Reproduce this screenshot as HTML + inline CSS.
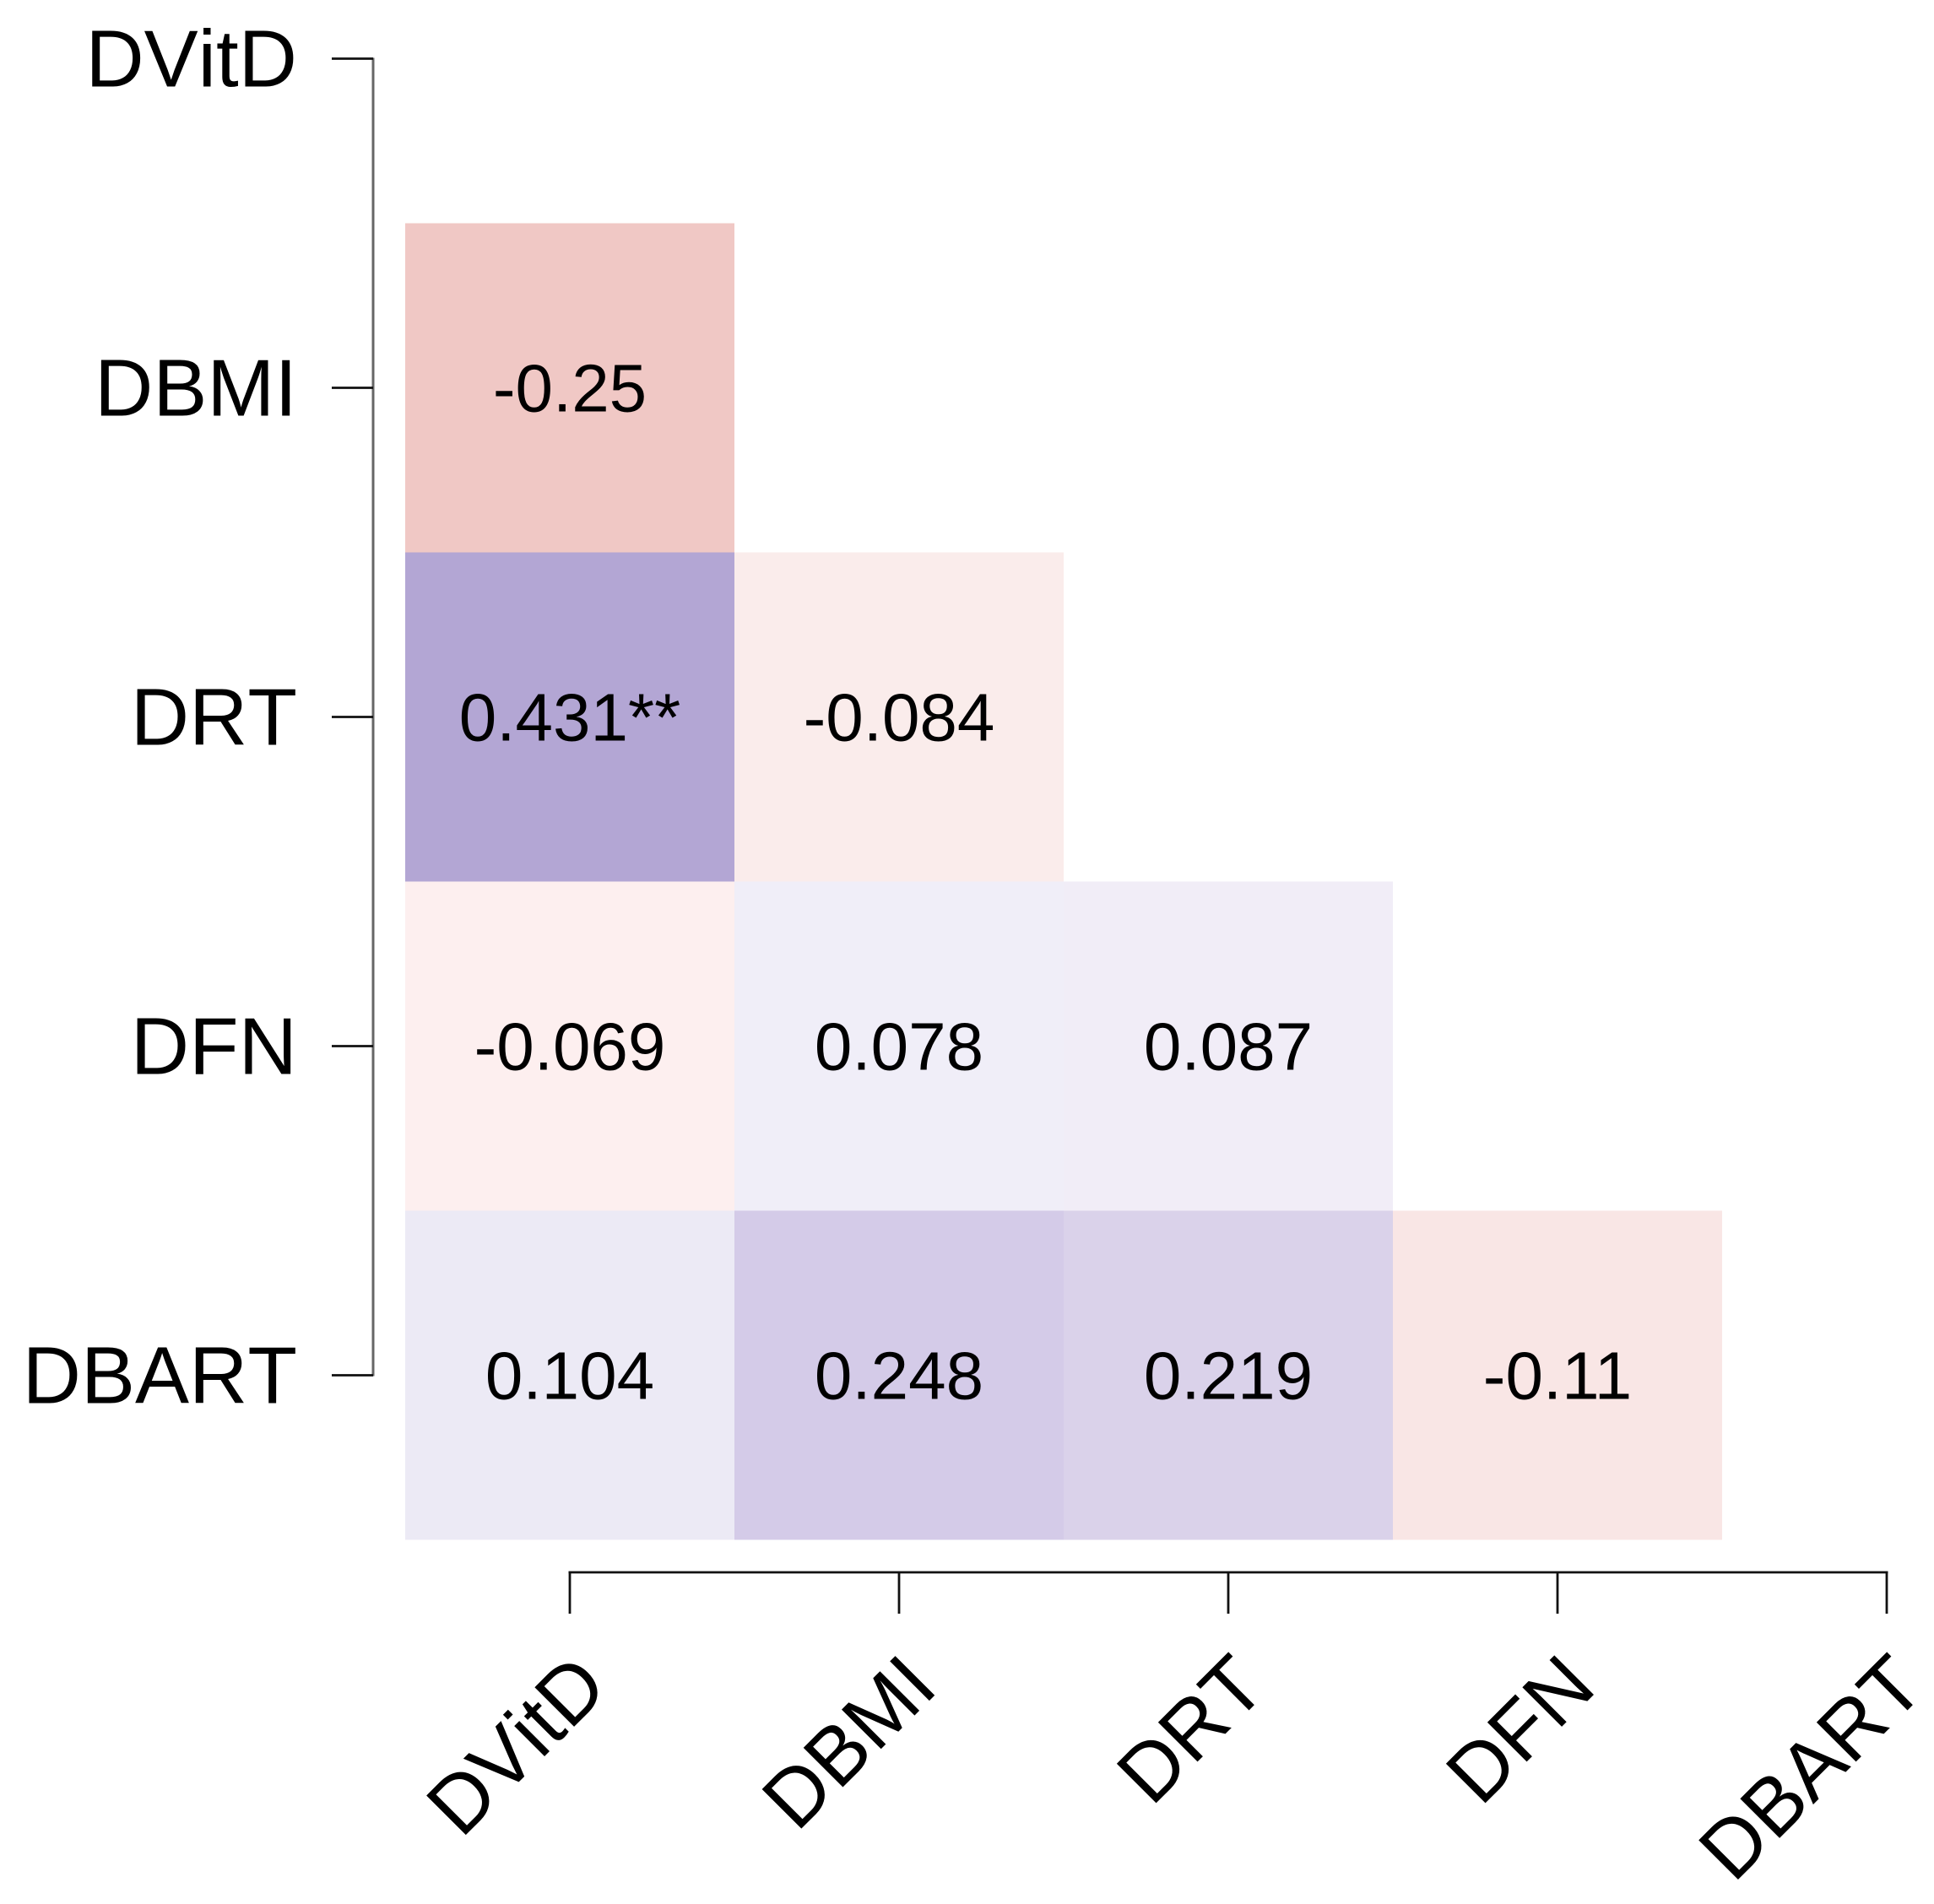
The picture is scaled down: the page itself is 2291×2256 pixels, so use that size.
<!DOCTYPE html>
<html>
<head>
<meta charset="utf-8">
<title>Correlation heatmap</title>
<style>
  html, body { margin: 0; padding: 0; background: #ffffff; }
  svg { display: block; }
  text { font-family: "Liberation Sans", Arial, sans-serif; fill: #000; }
  text.axis-label { font-kerning: none; }
</style>
</head>
<body>
<svg id="chart" xmlns="http://www.w3.org/2000/svg" width="2291" height="2256" viewBox="0 0 2291 2256"></svg>
<script>
const categories = ['DVitD', 'DBMI', 'DRT', 'DFN', 'DBART'];
const rowDBMI = [-0.25];
const rowDRT = [0.431, -0.084];
const rowDFN = [-0.069, 0.078, 0.087];
const rowDBART = [0.104, 0.248, 0.219, -0.11];
const printedDBMI = ['-0.25'];
const printedDRT = ['0.431**', '-0.084'];
const printedDFN = ['-0.069', '0.078', '0.087'];
const printedDBART = ['0.104', '0.248', '0.219', '-0.11'];
const correlationRows = [[], rowDBMI, rowDRT, rowDFN, rowDBART];
const printedRows = [[], printedDBMI, printedDRT, printedDFN, printedDBART];

const NS = 'http://www.w3.org/2000/svg';
const svg = document.getElementById('chart');
const band = 390;
const xOrigin = 675;
const yOrigin = 69.5;
function xPos(i) { return xOrigin + band * i; }
function yPos(i) { return yOrigin + band * i; }

/* Colour scale: correlation magnitude to fill, with stops matched by eye. */
const positiveStops = [[0, 255, 255, 255], [0.078, 240, 238, 248], [0.087, 241, 237, 247], [0.104, 236, 234, 245], [0.219, 218, 210, 234], [0.248, 212, 203, 232], [0.431, 179, 166, 212]];
const negativeStops = [[0, 255, 255, 255], [0.069, 253, 239, 239], [0.084, 250, 236, 235], [0.11, 249, 230, 229], [0.25, 240, 200, 197]];
function colorFor(v) {
  const stops = v >= 0 ? positiveStops : negativeStops;
  const m = Math.min(Math.abs(v), stops[stops.length - 1][0]);
  for (let i = 1; i < stops.length; i++) {
    if (m <= stops[i][0]) {
      const a = stops[i - 1];
      const b = stops[i];
      const t = (m - a[0]) / (b[0] - a[0]);
      return 'rgb(' + [1, 2, 3].map(function (k) { return Math.round(a[k] + (b[k] - a[k]) * t); }).join(',') + ')';
    }
  }
  return '#fff';
}
function add(tag, attrs, parent) {
  const el = document.createElementNS(NS, tag);
  Object.keys(attrs).forEach(function (k) { el.setAttribute(k, attrs[k]); });
  (parent || svg).appendChild(el);
  return el;
}

correlationRows.forEach(function (row, r) {
  row.forEach(function (v, c) {
    const cell = add('rect', { x: xPos(c) - band / 2, y: yPos(r) - band / 2, width: band, height: band, fill: colorFor(v) });
    
    
  });
});
correlationRows.forEach(function (row, r) {
  row.forEach(function (v, c) {
    const label = add('text', { x: xPos(c), y: yPos(r) + 28, 'text-anchor': 'middle', 'font-size': 80 });
    label.textContent = printedRows[r][c];
    
    
  });
});

const yAxisX = 442;
const yLine = add('line', { x1: yAxisX, x2: yAxisX, y1: yPos(0) - 1, y2: yPos(categories.length - 1) + 1, stroke: '#666666', 'stroke-width': 3 });



const xAxisY = 1863;
const xLine = add('line', { x1: xPos(0) - 1.5, x2: xPos(categories.length - 1) + 1.5, y1: xAxisY, y2: xAxisY, stroke: '#111111', 'stroke-width': 2.8 });



categories.forEach(function (name, i) {
  const yTick = add('line', { x1: 393, x2: yAxisX, y1: yPos(i), y2: yPos(i), stroke: '#111111', 'stroke-width': 2.8 });
  
  

  const yLabel = add('text', { x: 352, y: yPos(i) + 33, 'text-anchor': 'end', 'font-size': 96, class: 'axis-label' });
  yLabel.textContent = name;
  
  

  const xTick = add('line', { x1: xPos(i), x2: xPos(i), y1: xAxisY, y2: 1912, stroke: '#111111', 'stroke-width': 2.8 });
  
  

  const ax = xPos(i) + 48.5;
  const ay = 2002.5;
  const xLabel = add('text', { x: ax, y: ay, 'text-anchor': 'end', 'font-size': 96, class: 'axis-label', transform: 'rotate(-45 ' + ax + ' ' + ay + ')' });
  xLabel.textContent = name;
  
  
});
</script>
</body>
</html>
